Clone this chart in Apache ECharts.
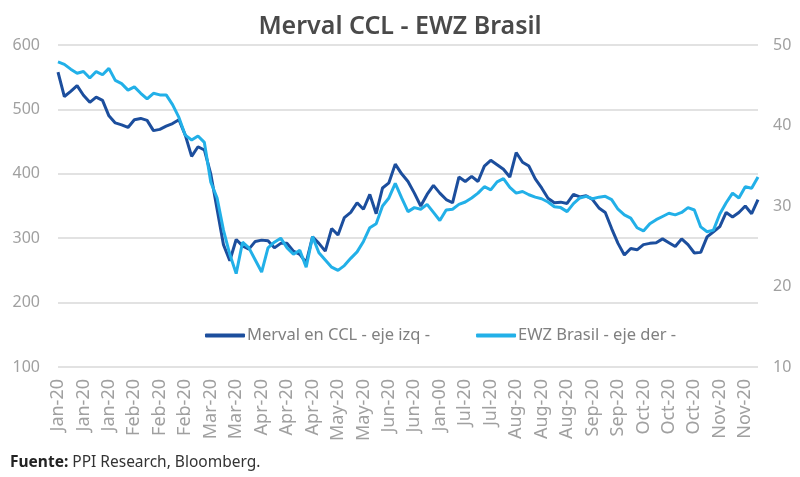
<!DOCTYPE html>
<html>
<head>
<meta charset="utf-8">
<script src="https://cdn.jsdelivr.net/npm/echarts@6/dist/echarts.min.js"></script>
<style>
html,body{margin:0;padding:0;background:#fff;}
#c{width:800px;height:477px;}
</style>
</head>
<body>
<div id="c"></div>
<script>
// Tick labels shown on the x axis (one every 4 points)
var tickLabels = ['Jan-20','Jan-20','Jan-20','Feb-20','Feb-20','Feb-20','Mar-20','Mar-20','Apr-20','Apr-20','Apr-20','May-20','May-20','Jun-20','Jun-20','Jan-00','Jul-20','Jul-20','Aug-20','Aug-20','Aug-20','Sep-20','Sep-20','Oct-20','Oct-20','Oct-20','Nov-20','Nov-20'];

// Merval en CCL (left axis)
var merval = [558,520,528,537,522,511,519,514,490,479,
  476,472,484,486,483,467,469,474,478,484,
  460,427,442,437,400,345,290,265,298,288,
  283,295,297,296,285,292,292,280,275,262,
  302,292,280,315,305,332,340,355,345,368,
  338,378,386,415,400,388,370,350,368,382,
  370,360,355,395,388,396,388,412,421,414,
  407,395,433,418,412,392,378,362,355,356,
  354,368,364,366,360,347,340,315,292,274,
  284,282,290,292,293,299,293,287,299,290,
  277,278,302,310,318,340,333,340,350,338,360];

// EWZ Brasil (right axis)
var ewz = [47.9,47.6,47.0,46.5,46.7,45.9,46.7,46.3,47.1,45.6,
  45.2,44.4,44.8,44.0,43.3,44.0,43.8,43.8,42.6,41.0,
  38.8,38.2,38.7,37.9,33.0,31.0,27.0,24.0,21.6,25.5,
  24.8,23.3,21.8,24.8,25.5,26.0,24.8,24.0,24.5,22.4,
  26.2,24.2,23.3,22.4,22.0,22.6,23.5,24.3,25.6,27.3,
  27.8,30.0,31.0,32.8,31.0,29.3,29.8,29.6,30.2,29.2,
  28.2,29.5,29.6,30.2,30.5,31.0,31.6,32.4,32.0,33.0,
  33.4,32.3,31.6,31.8,31.4,31.1,30.9,30.5,29.9,29.8,
  29.3,30.3,31.0,31.2,30.9,31.1,31.2,30.8,29.6,28.9,
  28.5,27.3,26.9,27.8,28.3,28.7,29.1,28.9,29.2,29.8,
  29.5,27.4,26.8,27.0,29.0,30.4,31.6,31.0,32.4,32.2,33.6];

var categories = merval.map(function(_, i){ return 'p' + i; });

var chart = echarts.init(document.getElementById('c'), null, {renderer:'canvas'});
var FONT = 'Noto Sans';
chart.setOption({
  animation:false,
  backgroundColor:'#ffffff',
  title:{
    text:'Merval CCL - EWZ Brasil',
    left:'center', top:9,
    textStyle:{fontFamily:FONT, fontSize:25, fontWeight:600, color:'#4a4a4a'}
  },
  legend:{
    left:200, top:322, itemGap:46, itemWidth:40, itemHeight:4,
    icon:'roundRect',
    textStyle:{fontFamily:FONT, fontSize:16.5, color:'#808080', padding:[0,0,0,-3]},
    data:['Merval en CCL - eje izq -','EWZ Brasil - eje der -']
  },
  grid:{left:58, right:42, top:45, bottom:110, containLabel:false},
  xAxis:{
    type:'category', data:categories, boundaryGap:false,
    axisLine:{show:false}, axisTick:{show:false},
    axisLabel:{
      interval:3, rotate:90, margin:12,
      fontFamily:FONT, fontSize:18, color:'#a0a0a0',
      formatter:function(v, idx){ return idx % 4 === 0 ? tickLabels[idx/4] : ''; }
    },
    splitLine:{show:false}
  },
  yAxis:[{
    type:'value', min:100, max:600, interval:100, position:'left',
    axisLine:{show:false}, axisTick:{show:false},
    axisLabel:{fontFamily:FONT, fontSize:16, color:'#a0a0a0', margin:18},
    splitLine:{lineStyle:{color:'#d9d9d9', width:1.5}}
  },{
    type:'value', min:10, max:50, interval:10, position:'right',
    axisLine:{show:false}, axisTick:{show:false},
    axisLabel:{fontFamily:FONT, fontSize:16, color:'#a0a0a0', margin:15},
    splitLine:{show:false}
  }],
  series:[{
    name:'Merval en CCL - eje izq -', type:'line', yAxisIndex:0,
    data:merval, showSymbol:false, symbol:'none',
    lineStyle:{color:'#1c4e9d', width:3},
    itemStyle:{color:'#1c4e9d'}
  },{
    name:'EWZ Brasil - eje der -', type:'line', yAxisIndex:1,
    data:ewz, showSymbol:false, symbol:'none',
    lineStyle:{color:'#22b0e8', width:3},
    itemStyle:{color:'#22b0e8'}
  }],
  graphic:[{
    type:'text', left:10, top:455,
    style:{
      text:'{b|Fuente:} PPI Research, Bloomberg.',
      fontFamily:FONT, fontSize:15.5, fill:'#333333',
      rich:{b:{fontFamily:FONT, fontSize:15.5, fontWeight:'bold', fill:'#222222'}}
    }
  }]
});
</script>
</body>
</html>
